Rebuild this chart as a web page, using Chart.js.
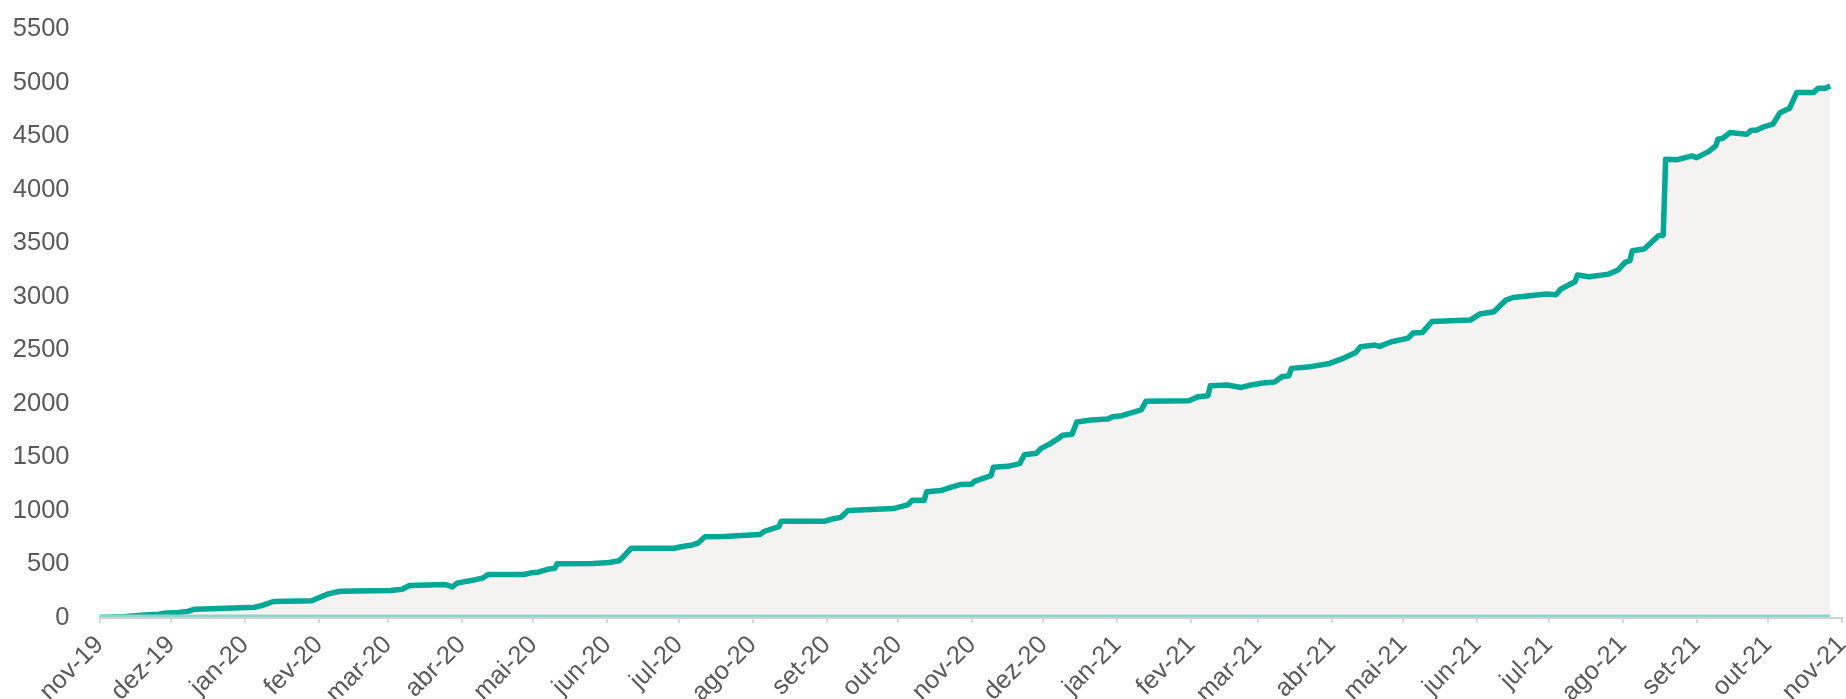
<!DOCTYPE html>
<html lang="pt">
<head>
<meta charset="utf-8">
<title>Acumulado</title>
<script src="https://cdn.jsdelivr.net/npm/chart.js@4/dist/chart.umd.min.js"></script>
<style>
    html, body { margin: 0; padding: 0; background: #ffffff; }
    #wrap { width: 1846px; height: 699px; position: relative; }
</style>
</head>
<body>
<div id="wrap"><canvas id="grafico"></canvas></div>
<script>
// Rótulos do eixo X (um por mês)
const rotulosMeses = ['nov-19', 'dez-19', 'jan-20', 'fev-20', 'mar-20', 'abr-20', 'mai-20', 'jun-20',
    'jul-20', 'ago-20', 'set-20', 'out-20', 'nov-20', 'dez-20', 'jan-21', 'fev-21', 'mar-21',
    'abr-21', 'mai-21', 'jun-21', 'jul-21', 'ago-21', 'set-21', 'out-21', 'nov-21'];

// Dias contados a partir de 01/11/2019
const dias = [0, 10, 19, 25, 27, 33, 37, 40, 50, 65, 68, 73, 89, 91, 96, 101, 122, 127, 130, 145, 148, 150,
    151, 156, 161, 163, 178, 181, 184, 188, 191, 192, 207, 214, 218, 220, 223, 241, 244, 248, 251, 254,
    262, 277, 279, 285, 286, 304, 307, 311, 314, 333, 339, 341, 346, 347, 353, 357, 361, 366, 367, 374,
    375, 381, 386, 388, 393, 395, 399, 402, 404, 408, 410, 416, 423, 425, 429, 432, 437, 439, 457, 461,
    465, 466, 473, 479, 483, 488, 493, 496, 499, 500, 508, 516, 522, 527, 529, 535, 537, 542, 549, 551,
    555, 559, 575, 579, 585, 590, 593, 607, 611, 613, 619, 620, 625, 633, 637, 640, 642, 643, 648, 651,
    654, 656, 657, 662, 668, 670, 675, 678, 679, 681, 684, 691, 693, 695, 698, 702, 705, 709, 712, 719,
    721, 724, 726];

// Valores acumulados
const acumulado = [5, 12, 28, 35, 45, 52, 62, 82, 88, 100, 115, 154, 160, 180, 225, 250, 257, 269, 303, 313, 290, 325,
    330, 350, 375, 406, 406, 422, 428, 455, 465, 506, 508, 518, 534, 577, 651, 651, 665, 679, 698, 758,
    760, 779, 810, 854, 903, 903, 922, 940, 1003, 1022, 1056, 1099, 1099, 1180, 1190, 1220, 1246, 1252, 1276, 1330,
    1407, 1416, 1441, 1525, 1538, 1584, 1630, 1672, 1706, 1715, 1831, 1849, 1858, 1880, 1889, 1911, 1943, 2023, 2029, 2067,
    2076, 2169, 2176, 2153, 2176, 2194, 2204, 2253, 2262, 2331, 2347, 2377, 2427, 2480, 2533, 2549, 2536, 2580, 2614, 2661,
    2667, 2769, 2782, 2838, 2860, 2969, 2993, 3025, 3018, 3071, 3140, 3202, 3186, 3211, 3249, 3320, 3336, 3429, 3445, 3506,
    3569, 3575, 4284, 4280, 4315, 4299, 4355, 4408, 4471, 4480, 4533, 4517, 4555, 4555, 4586, 4611, 4719, 4760, 4906, 4906,
    4947, 4947, 4968];

// Linha base em zero
const linhaZero = [0, 0];

const inicio = Date.UTC(2019, 10, 1);
const diasMeses = rotulosMeses.map((_, i) => Math.round((Date.UTC(2019, 10 + i, 1) - inicio) / 86400000));

const corTexto = '#595959';
const fonte = { family: '"Liberation Sans", Arial, sans-serif', size: 25.5 };

new Chart(document.getElementById('grafico'), {
    type: 'line',
    data: {
        datasets: [{
            data: dias.map((d, i) => ({ x: d, y: acumulado[i] })),
            borderColor: '#00a896',
            backgroundColor: '#f4f3f2',
            borderWidth: 5.5,
            fill: 'origin',
            pointRadius: 0,
            tension: 0,
            borderJoinStyle: 'round',
            order: 2
        }, {
            data: [{ x: dias[0], y: linhaZero[0] }, { x: dias[dias.length - 1], y: linhaZero[1] }],
            borderColor: '#8fd4cc',
            borderWidth: 7,
            fill: false,
            pointRadius: 0,
            order: 1
        }]
    },
    options: {
        responsive: true,
        maintainAspectRatio: false,
        animation: false,
        layout: { padding: { top: 29, right: 4, bottom: 0, left: 0 } },
        plugins: {
            legend: { display: false },
            tooltip: { enabled: false }
        },
        scales: {
            x: {
                type: 'linear',
                min: 0,
                max: diasMeses[diasMeses.length - 1],
                afterBuildTicks: function(scale) {
                    scale.ticks = diasMeses.map(v => ({ value: v }));
                },
                afterFit: function(scale) {
                    scale.height = 81;
                    scale.paddingLeft = 0;
                    scale.paddingRight = 0;
                },
                grid: {
                    drawOnChartArea: false,
                    drawTicks: true,
                    tickLength: 5,
                    color: '#d9d9d9',
                    lineWidth: 2
                },
                border: { display: true, color: '#d0d0d0', width: 2, z: 1 },
                ticks: {
                    autoSkip: false,
                    minRotation: 45,
                    maxRotation: 45,
                    padding: 7,
                    color: corTexto,
                    font: fonte,
                    callback: function(value) {
                        const i = diasMeses.indexOf(value);
                        return i >= 0 ? rotulosMeses[i] : '';
                    }
                }
            },
            y: {
                min: 0,
                max: 5500,
                afterFit: function(scale) {
                    scale.width = 99.5;
                    scale.paddingTop = 0;
                    scale.paddingBottom = 0;
                },
                grid: { display: false, drawTicks: false },
                border: { display: false },
                ticks: {
                    stepSize: 500,
                    padding: 30,
                    color: corTexto,
                    font: fonte,
                    callback: function(value) {
                        return String(value);
                    }
                }
            }
        }
    }
});
</script>
</body>
</html>
